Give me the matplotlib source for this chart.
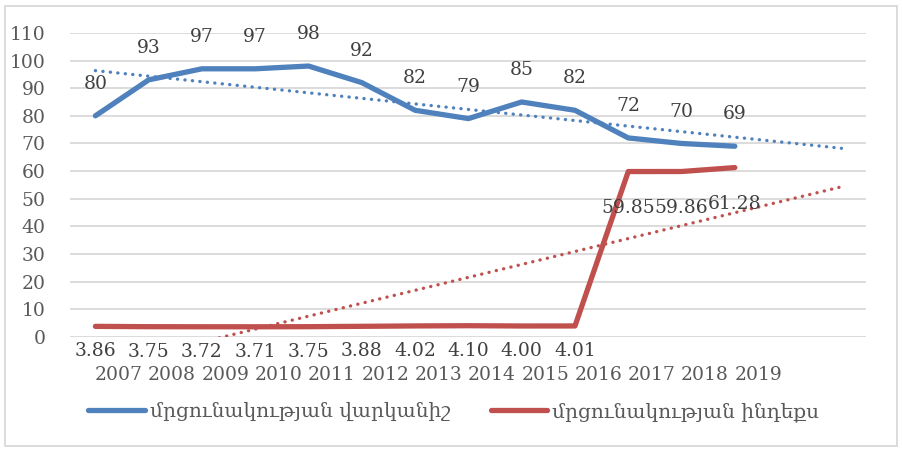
import matplotlib.pyplot as plt
import numpy as np
from matplotlib.patches import Rectangle

plt.rcParams['font.family'] = ['DejaVu Serif']

years = ['2007', '2008', '2009', '2010', '2011', '2012', '2013',
         '2014', '2015', '2016', '2017', '2018', '2019']
rank = [80, 93, 97, 97, 98, 92, 82, 79, 85, 82, 72, 70, 69]
index = [3.86, 3.75, 3.72, 3.71, 3.75, 3.88, 4.02, 4.10, 4.00, 4.01,
         59.85, 59.86, 61.28]
rank_name = 'մրցունակության վարկանիշ'
index_name = 'մրցունակության ինդեքս'

blue = '#4f81bd'
red = '#c0504d'
txt = '#404040'
fs = 13.5

x = np.arange(len(years))
# linear trend, forecast 2 periods forward (as in the Excel chart)
xt = np.arange(len(years) + 2)
br = np.polyfit(x, rank, 1)
bi = np.polyfit(x, index, 1)

fig = plt.figure(figsize=(9.02, 4.5), dpi=100)
ax = fig.add_axes([0.078, 0.251, 0.882, 0.676])

ax.plot(x, rank, color=blue, lw=3.8, solid_capstyle='round', solid_joinstyle='round',
        label=rank_name, zorder=3)
ax.plot(x, index, color=red, lw=3.8, solid_capstyle='round', solid_joinstyle='round',
        label=index_name, zorder=3)
ax.plot(xt, np.polyval(br, xt), color=blue, lw=2.4, ls=(0, (0.05, 2.2)),
        dash_capstyle='round', zorder=2)
ax.plot(xt, np.polyval(bi, xt), color=red, lw=2.4, ls=(0, (0.05, 2.2)),
        dash_capstyle='round', zorder=2)

for i, v in enumerate(rank):
    ax.annotate(f'{v}', (i, v), xytext=(0, 23), textcoords='offset points',
                ha='center', va='center', fontsize=fs, color=txt)
for i, v in enumerate(index):
    dy = -18 if v < 10 else -26
    ax.annotate(f'{v:.2f}', (i, v), xytext=(0, dy), textcoords='offset points',
                ha='center', va='center', fontsize=fs, color=txt)

ax.set_xlim(-0.47, 14.46)
ax.set_ylim(0, 110)
ax.set_yticks(np.arange(0, 111, 10))
ax.set_xticks(x + 0.44)
ax.set_xticklabels(years)
ax.tick_params(axis='y', length=0, pad=18, labelsize=fs, labelcolor='#595959')
ax.tick_params(axis='x', length=0, pad=21, labelsize=fs, labelcolor='#595959')
ax.grid(axis='y', color='#d9d9d9', lw=1.3)
ax.set_axisbelow(True)
for s in ax.spines.values():
    s.set_visible(False)

fig.legend(loc='center', bbox_to_anchor=(0.503, 0.085), ncol=2, frameon=False,
           fontsize=14.5, handlelength=2.8, columnspacing=2.0, handletextpad=0.25,
           labelcolor='#595959')

fig.patches.append(Rectangle((0.006, 0.008), 0.988, 0.978, transform=fig.transFigure,
                             fill=False, edgecolor='#d9d9d9', lw=1.3))

fig.savefig('out.png', dpi=100)
